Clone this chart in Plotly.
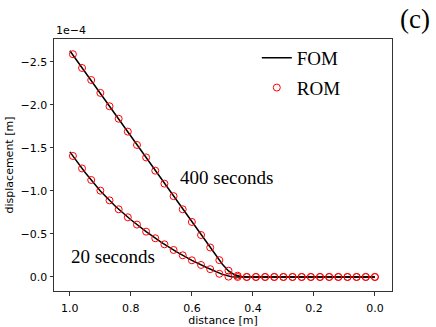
import plotly.graph_objects as go

# ROM sample positions (distance, m)
x_rom = [0.99, 0.96, 0.93, 0.90, 0.87, 0.84, 0.81, 0.78, 0.75, 0.72, 0.69, 0.66,
         0.63, 0.60, 0.57, 0.54, 0.51, 0.48, 0.45, 0.42, 0.39, 0.36, 0.33, 0.30,
         0.27, 0.24, 0.21, 0.18, 0.15, 0.12, 0.09, 0.06, 0.03, 0.00]
# displacement values in units of 1e-4 m
rom_400 = [-2.59, -2.43, -2.29, -2.14, -1.985, -1.84, -1.69, -1.535, -1.39, -1.236,
           -1.085, -0.94, -0.787, -0.64, -0.488, -0.343, -0.196, -0.073, -0.015,
           0, 0, 0, 0, 0, 0, 0, 0, 0, 0, 0, 0, 0, 0, 0]
rom_20 = [-1.407, -1.262, -1.128, -1.004, -0.891, -0.787, -0.694, -0.609, -0.527,
          -0.45, -0.38, -0.314, -0.252, -0.194, -0.14, -0.091, -0.037, -0.004,
          0, 0, 0, 0, 0, 0, 0, 0, 0, 0, 0, 0, 0, 0, 0, 0]

x_fom_400 = [1.0, 0.9, 0.8, 0.7, 0.6, 0.55, 0.5, 0.48, 0.46, 0.44, 0.42, 0.0]
fom_400 = [-2.63, -2.132, -1.634, -1.136, -0.638, -0.39, -0.148, -0.07, -0.025, -0.005, 0, 0]
x_fom_20 = [1.0, 0.95, 0.9, 0.85, 0.8, 0.75, 0.7, 0.65, 0.6, 0.55, 0.5, 0.47, 0.45, 0.0]
fom_20 = [-1.455, -1.215, -1.0, -0.82, -0.665, -0.527, -0.403, -0.293, -0.194,
          -0.107, -0.03, -0.003, 0, 0]

x_ticks = [1.0, 0.8, 0.6, 0.4, 0.2, 0.0]
y_ticks = [-2.5, -2.0, -1.5, -1.0, -0.5, 0.0]

SERIF = "Liberation Serif, Times New Roman, serif"
SANS = "DejaVu Sans, sans-serif"

fig = go.Figure()
fig.add_trace(go.Scatter(x=x_fom_400, y=fom_400, mode="lines", name="FOM",
                         line=dict(color="black", width=1.5), legendgroup="fom"))
fig.add_trace(go.Scatter(x=x_fom_20, y=fom_20, mode="lines", name="FOM", showlegend=False,
                         line=dict(color="black", width=1.5), legendgroup="fom"))
fig.add_trace(go.Scatter(x=x_rom, y=rom_400, mode="markers", name="ROM", legendgroup="rom",
                         marker=dict(symbol="circle-open", color="red", size=7, line=dict(width=1))))
fig.add_trace(go.Scatter(x=x_rom, y=rom_20, mode="markers", name="ROM", showlegend=False,
                         legendgroup="rom",
                         marker=dict(symbol="circle-open", color="red", size=7, line=dict(width=1))))

fig.add_annotation(x=0.646, y=-1.16, text="400 seconds", showarrow=False, xanchor="left",
                   font=dict(family=SERIF, size=19, color="black"))
fig.add_annotation(x=1.004, y=-0.24, text="20 seconds", showarrow=False, xanchor="left",
                   font=dict(family=SERIF, size=19, color="black"))
fig.add_annotation(xref="paper", yref="paper", x=0.0, y=1.0, text="1e\u22124", showarrow=False,
                   xanchor="left", yanchor="bottom", font=dict(family=SANS, size=11, color="black"))
fig.add_annotation(xref="paper", yref="paper", x=1.118, y=1.145, text="(c)", showarrow=False,
                   xanchor="right", yanchor="top", font=dict(family=SERIF, size=27, color="black"))

fig.update_layout(
    width=436, height=327,
    margin=dict(l=54, r=44, t=39, b=36),
    paper_bgcolor="white", plot_bgcolor="white",
    font=dict(family=SANS, size=11, color="black"),
    legend=dict(x=0.6, y=1.0, xanchor="left", yanchor="top", bgcolor="rgba(0,0,0,0)",
                font=dict(family=SERIF, size=19, color="black"), tracegroupgap=2),
    xaxis=dict(range=[1.052, -0.056], tickvals=x_ticks, tickformat=".1f", automargin=False,
               showgrid=False, zeroline=False, showline=True, mirror=True,
               linecolor="#333", linewidth=1, ticks="outside", ticklen=3.5,
               tickcolor="#333", ticklabelstandoff=3,
               tickfont=dict(family=SANS, size=11, color="black"),
               title=dict(text="distance [m]", standoff=4,
                          font=dict(family=SANS, size=11, color="black"))),
    yaxis=dict(range=[0.163, -2.767], tickvals=y_ticks, tickformat=".1f", automargin=False,
               showgrid=False, zeroline=False, showline=True, mirror=True,
               linecolor="#333", linewidth=1, ticks="outside", ticklen=3.5,
               tickcolor="#333",
               tickfont=dict(family=SANS, size=11, color="black"),
               title=dict(text="displacement [m]", standoff=4,
                          font=dict(family=SANS, size=11, color="black"))),
)

fig.write_html("out.html", config={"displayModeBar": False},
               post_script="document.body.style.margin='0';")
